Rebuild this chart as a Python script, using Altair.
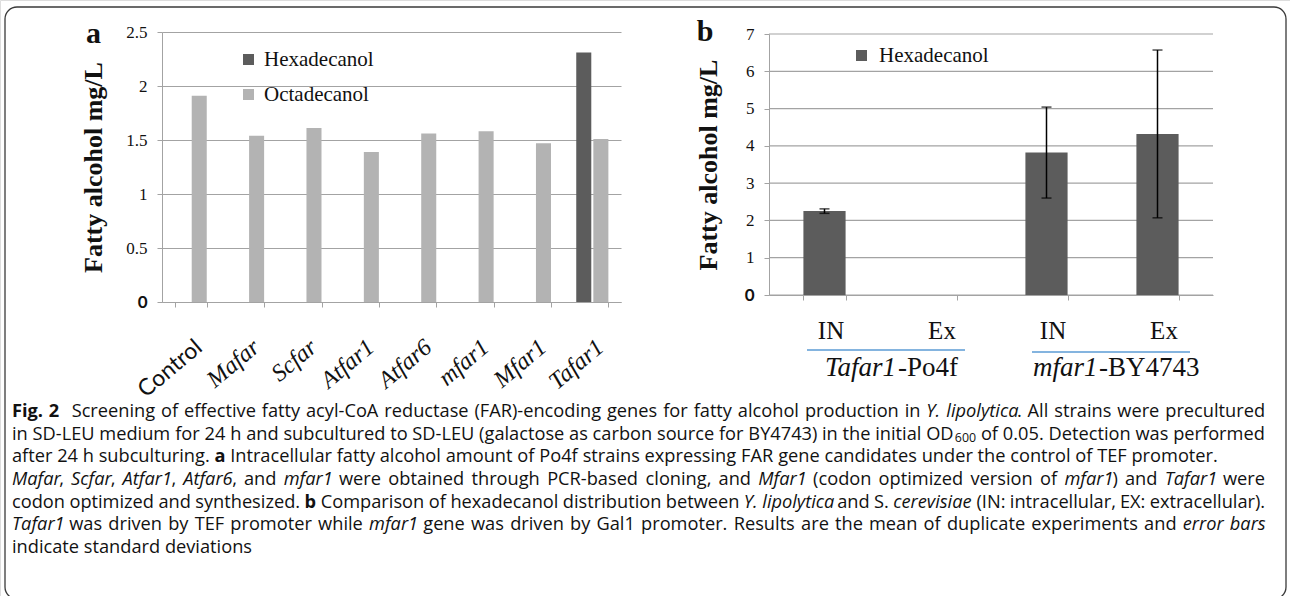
import altair as alt
import pandas as pd

# ---------------- data ----------------
strains_a = ["Control", "Mafar", "Scfar", "Atfar1", "Atfar6", "mfar1", "Mfar1", "Tafar1"]
series_a = ["Hexadecanol", "Octadecanol"]
hexadecanol_a = [None, None, None, None, None, None, None, 2.31]
octadecanol_a = [1.91, 1.54, 1.61, 1.39, 1.56, 1.58, 1.47, 1.51]
yticks_a = [0, 0.5, 1, 1.5, 2, 2.5]

groups_b = ["Tafar1-Po4f", "Tafar1-Po4f", "mfar1-BY4743", "mfar1-BY4743"]
fractions_b = ["IN", "Ex", "IN", "Ex"]
hexadecanol_b = [2.25, None, 3.82, 4.32]
sd_b = [0.06, None, 1.22, 2.25]
yticks_b = [0, 1, 2, 3, 4, 5, 6, 7]

y_title = "Fatty alcohol mg/L"

caption_lines = [
    ([("Fig. 2", "b"), ("  Screening of effective fatty acyl-CoA reductase (FAR)-encoding genes for fatty alcohol production in ", "n"),
      ("Y. lipolytica", "i"), (". All strains were precultured", "n")], True),
    ([("in SD-LEU medium for 24 h and subcultured to SD-LEU (galactose as carbon source for BY4743) in the initial OD", "n"),
      ("600", "s"), (" of 0.05. Detection was performed", "n")], True),
    ([("after 24 h subculturing. ", "n"), ("a", "b"),
      (" Intracellular fatty alcohol amount of Po4f strains expressing FAR gene candidates under the control of TEF promoter.", "n")], False),
    ([("Mafar", "i"), (", ", "n"), ("Scfar", "i"), (", ", "n"), ("Atfar1", "i"), (", ", "n"), ("Atfar6", "i"), (", and ", "n"),
      ("mfar1", "i"), (" were obtained through PCR-based cloning, and ", "n"), ("Mfar1", "i"),
      (" (codon optimized version of ", "n"), ("mfar1", "i"), (") and ", "n"), ("Tafar1", "i"), (" were", "n")], True),
    ([("codon optimized and synthesized. ", "n"), ("b", "b"), (" Comparison of hexadecanol distribution between ", "n"),
      ("Y. lipolytica", "i"), (" and S. ", "n"), ("cerevisiae", "i"), (" (IN: intracellular, EX: extracellular).", "n")], True),
    ([("Tafar1", "i"), (" was driven by TEF promoter while ", "n"), ("mfar1", "i"),
      (" gene was driven by Gal1 promoter. Results are the mean of duplicate experiments and ", "n"), ("error bars", "i")], True),
    ([("indicate standard deviations", "n")], False),
]

# ---------------- layout / style ----------------
W, H = 1290, 596
A_X = [162, 621]
A_Y = [302, 32]
B_X = [769, 1213]
B_Y = [295, 34]
SERIF = "Liberation Serif"
SANS = "Open Sans"
TXT = "#111111"
GRID = "#a3a3a3"
DARK = "#5c5c5c"
LIGHT = "#b3b3b3"
BLUE = "#5b9bd5"

# Open Sans advance widths (1/2048 em) used to set caption words
OS = {' ': 532, 'a': 1139, 'b': 1255, 'c': 975, 'd': 1255, 'e': 1149, 'f': 694, 'g': 1122, 'h': 1257, 'i': 518,
      'j': 518, 'k': 1075, 'l': 518, 'm': 1905, 'n': 1257, 'o': 1237, 'p': 1255, 'q': 1255, 'r': 836, 's': 977,
      't': 723, 'u': 1257, 'v': 1026, 'w': 1593, 'x': 1073, 'y': 1028, 'z': 946,
      'A': 1296, 'B': 1327, 'C': 1292, 'D': 1493, 'E': 1139, 'F': 1057, 'G': 1491, 'H': 1511, 'I': 571, 'J': 547,
      'K': 1257, 'L': 1063, 'M': 1849, 'N': 1556, 'O': 1599, 'P': 1239, 'Q': 1599, 'R': 1280, 'S': 1114, 'T': 1122,
      'U': 1499, 'V': 1210, 'W': 1905, 'X': 1165, 'Y': 1143, 'Z': 1180,
      '.': 545, ',': 500, ':': 545, ';': 545, '-': 659, '(': 586, ')': 586, '/': 752}
STYLE_F = {"n": 1.0, "b": 1.07, "i": 0.94, "s": 0.68}
CAP_X0, CAP_X1 = 12, 1265
LINE3_END = 1218
CAP_Y0, CAP_DY = 412, 22.67


def em_w(text, style):
    return sum(OS.get(c, 1171) for c in text) / 2048 * STYLE_F[style]


def split_words(runs):
    words, cur, lead = [], [], 0
    for text, st in runs:
        for c in text:
            if c == " ":
                if cur:
                    words.append((lead, cur))
                    cur, lead = [], 0
                lead += 1
            else:
                if cur and cur[-1][1] == st:
                    cur[-1][0] += c
                else:
                    cur.append([c, st])
    if cur:
        words.append((lead, cur))
    return words


def line_em(runs):
    return sum(em_w(t, s) for t, s in runs)


max_em = max(line_em(runs) for runs, j in caption_lines if j)
FS = min((LINE3_END - CAP_X0) / line_em(caption_lines[2][0]), (CAP_X1 - CAP_X0) / max_em * 1.01)
SUB_GAP = 1.2

cap_rows = []
for li, (runs, justify) in enumerate(caption_lines):
    words = split_words(runs)
    sp = OS[' '] / 2048 * FS
    natural = sum(lead * sp + sum(em_w(t, s) * FS + (SUB_GAP if s == "s" else 0) for t, s in pcs)
                  for lead, pcs in words)
    nsp = sum(lead for lead, _ in words)
    extra = (CAP_X1 - CAP_X0 - natural) / nsp if (justify and nsp) else 0
    x = CAP_X0
    yline = CAP_Y0 + li * CAP_DY
    for lead, pcs in words:
        x += lead * (sp + extra)
        for t, s in pcs:
            if s == "s":
                x += SUB_GAP
            cap_rows.append({"text": t, "x": x, "y": yline + (3 if s == "s" else 0), "style": s})
            x += em_w(t, s) * FS
df_cap = pd.DataFrame(cap_rows)

# ---------------- tables ----------------
rows_a = []
for s, h, o in zip(strains_a, hexadecanol_a, octadecanol_a):
    if h is not None:
        rows_a.append({"strain": s, "series": "Hexadecanol", "value": h})
    if o is not None:
        rows_a.append({"strain": s, "series": "Octadecanol", "value": o})
df_a = pd.DataFrame(rows_a)

keys_b = [f"{g}|{f}" for g, f in zip(groups_b, fractions_b)]
df_b = pd.DataFrame([
    {"key": k, "series": "Hexadecanol", "value": v, "lo": v - e, "hi": v + e}
    for k, v, e in zip(keys_b, hexadecanol_b, sd_b) if v is not None
])
df_grid_b = pd.DataFrame({"v": yticks_b})

ylab_font = {"condition": {"test": "datum.value == 0", "value": "Lato"}, "value": SERIF}
ylab_weight = {"condition": {"test": "datum.value == 0", "value": "bold"}, "value": "normal"}


def y_axis(values, x0, ymid, title_x, grid):
    return alt.Axis(
        orient="left", offset=-x0, values=values, labelExpr="'' + datum.value",
        labelFont=ylab_font, labelFontWeight=ylab_weight, labelFontSize=17, labelColor=TXT, labelPadding=10,
        tickSize=5, tickColor=GRID, domainColor=GRID, grid=grid, gridColor=GRID, gridWidth=1.2,
        title=y_title, titleFont=SERIF, titleFontWeight="bold", titleFontSize=26, titleColor=TXT,
        titleAngle=270, titleAlign="center", titleBaseline="middle", titleX=title_x - x0, titleY=ymid,
    )


# ---------------- panel a ----------------
xa_scale = alt.Scale(domain=strains_a, range=A_X, paddingInner=0.44, paddingOuter=0.22)
ya_scale = alt.Scale(domain=[0, 2.5], range=A_Y, nice=False)

bars_a = alt.Chart(df_a).mark_bar().encode(
    x=alt.X("strain:N", scale=xa_scale, axis=alt.Axis(
        orient="bottom", offset=-(H - A_Y[0]), title=None, labelAngle=320, labelAlign="right",
        labelBaseline="middle", labelPadding=37, labelOffset=8, labelOverlap=False,
        labelFont={"condition": {"test": "datum.value == 'Control'", "value": "Lato"}, "value": SERIF},
        labelFontStyle={"condition": {"test": "datum.value == 'Control'", "value": "normal"}, "value": "italic"},
        labelFontSize={"condition": {"test": "datum.value == 'Control'", "value": 23}, "value": 24},
        labelColor=TXT, tickBand="extent", tickSize=5, tickColor=GRID, domainColor=GRID, grid=False)),
    xOffset=alt.XOffset("series:N", scale=alt.Scale(domain=series_a, paddingInner=0.12)),
    y=alt.Y("value:Q", scale=ya_scale, axis=y_axis(yticks_a, A_X[0], (A_Y[0] + A_Y[1]) / 2, 93.5, True)),
    color=alt.Color("series:N", scale=alt.Scale(domain=series_a, range=[DARK, LIGHT]), legend=alt.Legend(
        orient="none", legendX=238, legendY=49, title=None, symbolType="square", symbolSize=121,
        symbolStrokeWidth=0, labelFont=SERIF, labelFontSize=21, labelColor=TXT, rowPadding=13,
        labelOffset=5, padding=0)),
)


# ---------------- panel b ----------------
def xb_scale():
    return alt.Scale(domain=keys_b, range=B_X, paddingInner=0.62, paddingOuter=0.31)


def yb_scale():
    return alt.Scale(domain=[0, 7], range=B_Y, nice=False)


grid_b = alt.Chart(df_grid_b).mark_rule(color=GRID, strokeWidth=1.2).encode(
    y=alt.Y("v:Q", scale=yb_scale(), axis=None), x=alt.value(B_X[0]), x2=alt.value(B_X[1]))

bars_b = alt.Chart(df_b).mark_bar(color=DARK).encode(
    x=alt.X("key:N", scale=xb_scale(), axis=alt.Axis(
        orient="bottom", offset=-(H - B_Y[0]), title=None, labelExpr="split(datum.label, '|')[1]",
        labelAngle=0, labelFont=SERIF, labelFontSize=25, labelColor=TXT, labelPadding=18, labelOffset=6,
        labelBaseline="top", labelOverlap=False, tickBand="extent", tickSize=5, tickColor=GRID,
        domainColor=GRID, grid=False)),
    y=alt.Y("value:Q", scale=yb_scale(), axis=y_axis(yticks_b, B_X[0], (B_Y[0] + B_Y[1]) / 2, 708, False)),
    color=alt.Color("series:N", scale=alt.Scale(domain=["Hexadecanol"], range=[DARK]), legend=alt.Legend(
        orient="none", legendX=851, legendY=45, title=None, symbolType="square", symbolSize=121,
        symbolStrokeWidth=0, labelFont=SERIF, labelFontSize=21, labelColor=TXT, labelOffset=7, padding=0)),
)
err_rule = alt.Chart(df_b).mark_rule(color="#000000", strokeWidth=1.5).encode(
    x=alt.X("key:N", scale=xb_scale(), axis=None),
    y=alt.Y("lo:Q", scale=yb_scale(), axis=None), y2="hi:Q")
cap_lo = alt.Chart(df_b).mark_tick(color="#000000", thickness=1.5, size=10).encode(
    x=alt.X("key:N", scale=xb_scale(), axis=None), y=alt.Y("lo:Q", scale=yb_scale(), axis=None))
cap_hi = alt.Chart(df_b).mark_tick(color="#000000", thickness=1.5, size=10).encode(
    x=alt.X("key:N", scale=xb_scale(), axis=None), y=alt.Y("hi:Q", scale=yb_scale(), axis=None))


# ---------------- annotations ----------------
def txt(t, x, y, **kw):
    return alt.Chart(pd.DataFrame({"t": [t]})).mark_text(**kw).encode(
        x=alt.value(x), y=alt.value(y), text="t:N")


one = pd.DataFrame({"k": [0]})
letters = [
    txt("a", 93.5, 43, font=SERIF, fontWeight="bold", fontSize=30, align="center", baseline="alphabetic", color=TXT),
    txt("b", 705, 41, font=SERIF, fontWeight="bold", fontSize=30, align="center", baseline="alphabetic", color=TXT),
]
group_labels = [
    txt("Tafar1", 825, 376, font=SERIF, fontStyle="italic", fontSize=27, align="left", baseline="alphabetic", color=TXT),
    txt("-Po4f", 898, 376, font=SERIF, fontSize=27, align="left", baseline="alphabetic", color=TXT),
    txt("mfar1", 1033, 376, font=SERIF, fontStyle="italic", fontSize=27, align="left", baseline="alphabetic", color=TXT),
    txt("-BY4743", 1099, 376, font=SERIF, fontSize=27, align="left", baseline="alphabetic", color=TXT),
]
blue_lines = [
    alt.Chart(one).mark_rule(color=BLUE, strokeWidth=1.5).encode(x=alt.value(807), x2=alt.value(965), y=alt.value(350)),
    alt.Chart(one).mark_rule(color=BLUE, strokeWidth=1.5).encode(x=alt.value(1032), x2=alt.value(1190), y=alt.value(352)),
]
border = alt.Chart(one).mark_rect(fillOpacity=0, stroke="#3a3a3a", strokeWidth=1.3, cornerRadius=12).encode(
    x=alt.value(5), x2=alt.value(1286), y=alt.value(7), y2=alt.value(599))

cap_base = alt.Chart(df_cap).encode(
    x=alt.X("x:Q", scale=None, axis=None), y=alt.Y("y:Q", scale=None, axis=None), text="text:N")
cap_layers = [
    cap_base.transform_filter("datum.style == 'n'").mark_text(align="left", baseline="middle", font=SANS, fontSize=FS, color=TXT),
    cap_base.transform_filter("datum.style == 'i'").mark_text(align="left", baseline="middle", font=SANS, fontSize=FS, fontStyle="italic", color=TXT),
    cap_base.transform_filter("datum.style == 'b'").mark_text(align="left", baseline="middle", font=SANS, fontSize=FS, fontWeight="bold", color=TXT),
    cap_base.transform_filter("datum.style == 's'").mark_text(align="left", baseline="middle", font=SANS, fontSize=FS * 0.68, color=TXT),
]

chart = alt.layer(
    bars_a, grid_b, bars_b, err_rule, cap_lo, cap_hi, border, *letters, *group_labels, *blue_lines, *cap_layers
).resolve_scale(
    x="independent", y="independent", color="independent", xOffset="independent"
).properties(
    width=W, height=H, autosize=alt.AutoSizeParams(type="none"), padding=0
).configure_view(strokeWidth=0).configure(background="white")

chart.save("out.html", embed_options={"renderer": "svg", "actions": False})
